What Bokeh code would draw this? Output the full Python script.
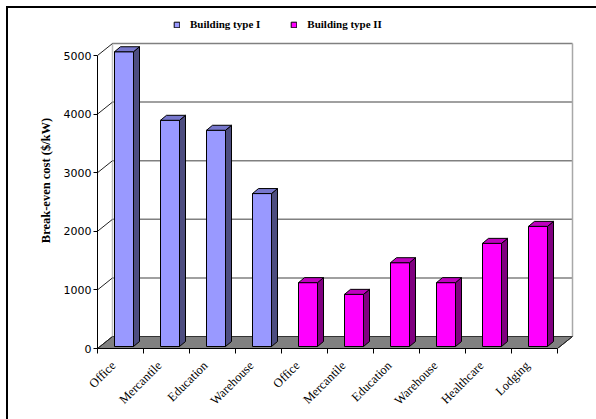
import math
from bokeh.plotting import figure
from bokeh.models import Range1d, FixedTicker, Legend, LegendItem
from bokeh.embed import file_html
from bokeh.resources import INLINE

# ---- data ----
categories = ["Office", "Mercantile", "Education", "Warehouse",
              "Office", "Mercantile", "Education", "Warehouse", "Healthcare", "Lodging"]
series_names = ["Building type I", "Building type II"]
type1_values = [5030, 3860, 3690, 2610]
type2_values = [1090, 890, 1430, 1090, 1760, 2050]
y_ticks = [0, 1000, 2000, 3000, 4000, 5000]
y_title = "Break-even cost ($/kW)"

# ---- geometry (pixel based pseudo-3D) ----
PX_X = 46.0        # pixels per category
PX_Y = 0.0586      # pixels per unit of cost
DX = 15 / PX_X     # wall depth in x data units
DY = 12 / PX_Y     # wall depth in y data units
BAR_L = 17 / PX_X
BAR_W = 19 / PX_X
BAR_BASE = 2 / PX_Y
BAR_SX = 6 / PX_X
BAR_SY = 5 / PX_Y
SHIFT = 0.15       # category centre offset from its label tick

n = len(categories)
W, H = 596, 419
F_LEFT, F_RIGHT, F_TOP, F_BOTTOM = 97, 575, 12, 348
FRAME_W, FRAME_H = F_RIGHT - F_LEFT, F_BOTTOM - F_TOP
x0 = -0.5 + SHIFT
p = figure(width=W, height=H,
           x_range=Range1d(x0, x0 + FRAME_W / PX_X),
           y_range=Range1d(0, FRAME_H / PX_Y),
           min_border_left=F_LEFT, min_border_right=W - F_RIGHT,
           min_border_top=F_TOP, min_border_bottom=H - F_BOTTOM,
           output_backend="svg", toolbar_location=None)
# page frame: black left and top edges, seen through a transparent border area
p.styles = {"background-color": "white", "overflow": "hidden",
            "box-shadow": "inset 6px 6px 0 0 white, inset 8px 8px 0 0 black"}
p.stylesheets = ["div { overflow: hidden !important; } svg { display: block; }"]
p.outline_line_color = None
p.xgrid.visible = False
p.ygrid.visible = False
p.background_fill_color = "white"
p.border_fill_alpha = 0

xmin, xmax = x0, x0 + n
top_v = y_ticks[-1]

# floor
p.patch([xmin, xmax, xmax + DX, xmin + DX], [0, 0, DY, DY],
        fill_color="#808080", line_color="#333333", line_width=1)
# back wall gridlines
for t in y_ticks[1:]:
    p.line([xmin + DX, xmax + DX], [t + DY, t + DY], line_color="#808080", line_width=1.5)
# back wall left/right edges
p.line([xmin + DX, xmin + DX], [DY, top_v + DY], line_color="#c0c0c0", line_width=1.5)
p.line([xmax + DX, xmax + DX], [DY, top_v + DY], line_color="#a8a8a8", line_width=1.5)
# side wall diagonals
for t in y_ticks:
    p.line([xmin, xmin + DX], [t, t + DY], line_color="#222222", line_width=1)
# floor right edge
p.line([xmax, xmax + DX], [0, DY], line_color="#222222", line_width=1)

def draw_bars(idx, vals, front, side, topc):
    lefts = [i + SHIFT - 0.5 + BAR_L for i in idx]
    rights = [l + BAR_W for l in lefts]
    tops = [BAR_BASE + v for v in vals]
    r = p.quad(left=lefts, right=rights, bottom=BAR_BASE, top=tops,
               fill_color=front, line_color="black", line_width=1)
    p.patches([[rr, rr + BAR_SX, rr + BAR_SX, rr] for rr in rights],
              [[BAR_BASE, BAR_BASE + BAR_SY, t + BAR_SY, t] for t in tops],
              fill_color=side, line_color="black", line_width=1)
    p.patches([[l, rr, rr + BAR_SX, l + BAR_SX] for l, rr in zip(lefts, rights)],
              [[t, t, t + BAR_SY, t + BAR_SY] for t in tops],
              fill_color=topc, line_color="black", line_width=1)
    return r

idx1 = list(range(len(type1_values)))
idx2 = list(range(len(type1_values), n))
r1 = draw_bars(idx1, type1_values, "#9999FF", "#4D4D80", "#7777CC")
r2 = draw_bars(idx2, type2_values, "#FF00FF", "#800080", "#C000C0")

# ---- axes ----
yax = p.yaxis[0]
yax.ticker = FixedTicker(ticks=y_ticks)
yax.bounds = (0, top_v)
yax.major_tick_out = 4
yax.major_tick_in = 0
yax.minor_tick_line_color = None
yax.major_label_text_font = "DejaVu Sans"
yax.major_label_text_font_size = "11px"
yax.major_label_text_color = "black"
yax.major_label_standoff = 2
yax.axis_line_color = "black"
yax.axis_label = y_title
yax.axis_label_text_font = "Liberation Serif"
yax.axis_label_text_font_style = "bold"
yax.axis_label_text_font_size = "12.5px"
yax.axis_label_text_color = "black"
yax.axis_label_standoff = 8

xax = p.xaxis[0]
xax.ticker = FixedTicker(ticks=list(range(n)),
                         minor_ticks=[i - 0.5 + SHIFT for i in range(n + 1)])
xax.major_label_overrides = {i: c for i, c in enumerate(categories)}
xax.bounds = (xmin, xmax)
xax.major_tick_line_color = None
xax.major_tick_out = 0
xax.major_tick_in = 0
xax.minor_tick_line_color = "black"
xax.minor_tick_out = 5
xax.minor_tick_in = 0
xax.major_label_orientation = math.pi / 4
xax.major_label_text_font = "Liberation Serif"
xax.major_label_text_font_size = "12.5px"
xax.major_label_text_color = "black"
xax.major_label_standoff = 10
xax.axis_line_color = "black"

# ---- legend ----
legend = Legend(items=[LegendItem(label=series_names[0], renderers=[r1]),
                       LegendItem(label=series_names[1], renderers=[r2])],
                orientation="horizontal", location=(76, 318),
                border_line_color=None, background_fill_alpha=0,
                label_text_font="Liberation Serif", label_text_font_style="bold",
                label_text_font_size="11px", label_text_color="black",
                glyph_width=7, glyph_height=7,
                label_standoff=10, spacing=30, padding=0, margin=0)
p.add_layout(legend, "center")

open("out.html", "w").write(file_html(p, INLINE))
